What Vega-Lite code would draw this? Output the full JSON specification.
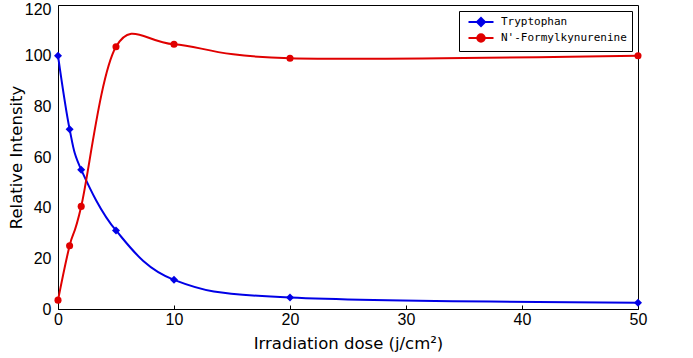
{
  "$schema": "https://vega.github.io/schema/vega-lite/v6.json",
  "width": 580,
  "height": 304,
  "autosize": {"type": "none"},
  "padding": {"left": 58, "top": 5, "right": 55, "bottom": 49},
  "background": "white",
  "config": {
    "view": {"stroke": "black", "strokeWidth": 1},
    "axis": {
      "domainColor": "black",
      "tickColor": "black",
      "labelColor": "black",
      "titleColor": "black",
      "labelFont": "Liberation Sans",
      "titleFont": "DejaVu Sans",
      "labelFontSize": 16,
      "titleFontSize": 16.5,
      "titleFontWeight": "normal",
      "grid": false
    }
  },
  "data": {
    "values": [
      {"dose": 0, "value": 100, "series": "Tryptophan"},
      {"dose": 1, "value": 71, "series": "Tryptophan"},
      {"dose": 2, "value": 55, "series": "Tryptophan"},
      {"dose": 5, "value": 31, "series": "Tryptophan"},
      {"dose": 10, "value": 11.5, "series": "Tryptophan"},
      {"dose": 20, "value": 4.5, "series": "Tryptophan"},
      {"dose": 50, "value": 2.5, "series": "Tryptophan"},
      {"dose": 0, "value": 3.5, "series": "N'-Formylkynurenine"},
      {"dose": 1, "value": 25, "series": "N'-Formylkynurenine"},
      {"dose": 2, "value": 40.5, "series": "N'-Formylkynurenine"},
      {"dose": 5, "value": 103.5, "series": "N'-Formylkynurenine"},
      {"dose": 10, "value": 104.5, "series": "N'-Formylkynurenine"},
      {"dose": 20, "value": 99, "series": "N'-Formylkynurenine"},
      {"dose": 50, "value": 100, "series": "N'-Formylkynurenine"}
    ]
  },
  "encoding": {
    "x": {
      "field": "dose",
      "type": "quantitative",
      "scale": {"domain": [0, 50], "nice": false},
      "axis": {
        "title": "Irradiation dose (j/cm²)",
        "values": [0, 10, 20, 30, 40, 50],
        "tickSize": -4,
        "labelPadding": 6,
        "titlePadding": 8,
        "labelFlush": false
      }
    },
    "y": {
      "field": "value",
      "type": "quantitative",
      "scale": {"domain": [0, 120], "nice": false},
      "axis": {
        "title": "Relative Intensity",
        "values": [0, 20, 40, 60, 80, 100, 120],
        "ticks": false,
        "labelPadding": 7,
        "labelOffset": {"condition": {"test": "datum.value === 120", "value": 4}, "value": 0},
        "titlePadding": 0,
        "labelFlush": false
      }
    },
    "color": {
      "field": "series",
      "type": "nominal",
      "scale": {"domain": ["Tryptophan", "N'-Formylkynurenine"], "range": ["#0000e6", "#e00000"]},
      "legend": {
        "title": null,
        "orient": "top-right",
        "offset": 6,
        "padding": 5,
        "strokeColor": "black",
        "fillColor": "white",
        "labelFont": "DejaVu Sans Mono",
        "labelFontSize": 11,
        "labelColor": "black",
        "symbolSize": 100,
        "symbolStrokeWidth": 2,
        "symbolOffset": 11,
        "labelOffset": 14,
        "rowPadding": 0,
        "symbolType": "M-2.5,0H2.5",
        "encode": {
          "symbols": {
            "update": {
              "shape": {"signal": "datum.value === 'Tryptophan' ? 'M-2.5,0H2.5M-0.8,0L0,-0.8L0.8,0L0,0.8Z' : 'M-2.5,0H2.5M-0.75,0A0.75,0.75,0,1,1,0.75,0A0.75,0.75,0,1,1,-0.75,0Z'"},
              "fill": {"signal": "datum.value === 'Tryptophan' ? '#0000e6' : '#e00000'"},
              "stroke": {"signal": "datum.value === 'Tryptophan' ? '#0000e6' : '#e00000'"},
              "strokeWidth": {"value": 2}
            }
          }
        }
      }
    }
  },
  "layer": [
    {
      "mark": {"type": "line", "interpolate": "cardinal", "tension": 0, "strokeWidth": 2}
    },
    {
      "transform": [{"filter": "datum.series === 'Tryptophan'"}],
      "mark": {"type": "point", "filled": true, "opacity": 1, "shape": "diamond", "size": 64}
    },
    {
      "transform": [{"filter": "datum.series !== 'Tryptophan'"}],
      "mark": {"type": "point", "filled": true, "opacity": 1, "shape": "circle", "size": 50}
    }
  ]
}
